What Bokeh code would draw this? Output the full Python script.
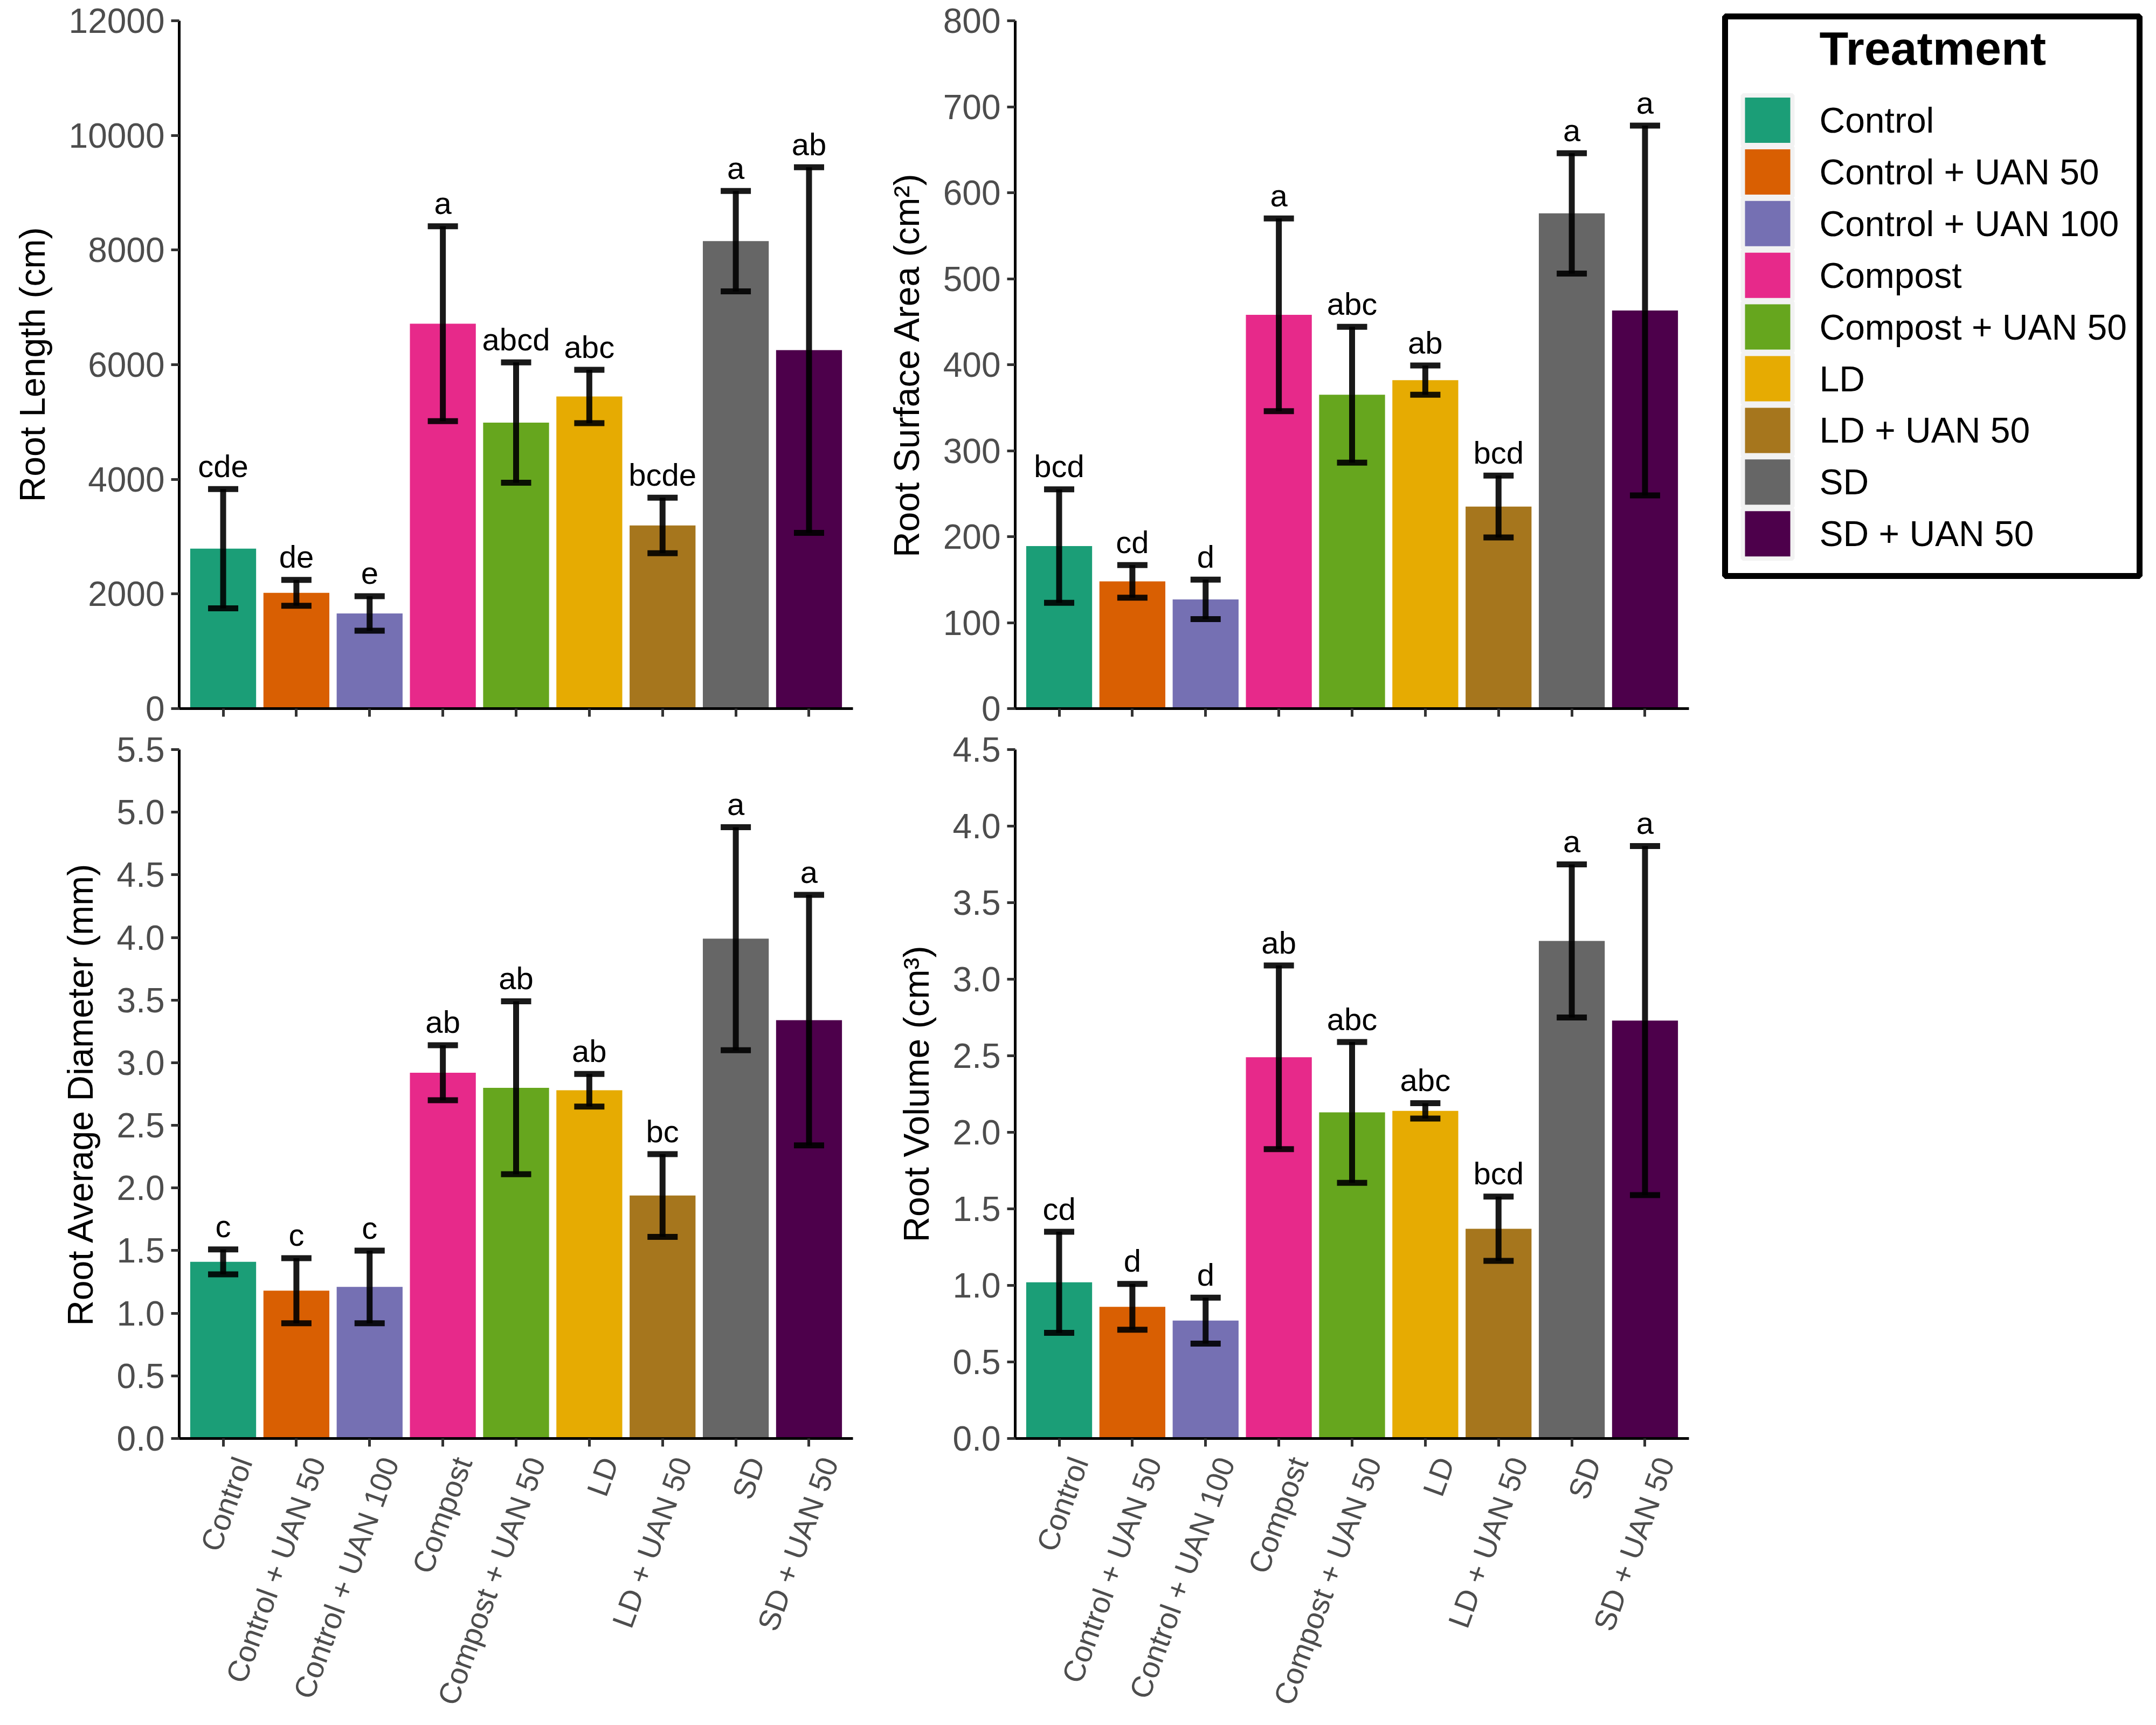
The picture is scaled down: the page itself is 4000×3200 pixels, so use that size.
import numpy as np
from bokeh.plotting import figure
from bokeh.models import (ColumnDataSource, Range1d, FixedTicker,
                          PrintfTickFormatter, Whisker, TeeHead, LinearAxis,
                          CustomJSTickFormatter)
from bokeh.layouts import row, column
from bokeh.core.properties import value
from bokeh.embed import file_html
from bokeh.resources import INLINE

# ---------------- data ----------------
treatments = ["Control", "Control + UAN 50", "Control + UAN 100", "Compost",
              "Compost + UAN 50", "LD", "LD + UAN 50", "SD", "SD + UAN 50"]
colors = ["#1B9E77", "#D95F02", "#7570B3", "#E7298A", "#66A61E",
          "#E6AB02", "#A6761D", "#666666", "#4D004B"]

length_mean = [2790, 2020, 1660, 6715, 4990, 5445, 3195, 8155, 6255]
length_se = [1040, 225, 300, 1700, 1050, 465, 485, 875, 3190]
length_letters = ["cde", "de", "e", "a", "abcd", "abc", "bcde", "a", "ab"]
length_ticks = [0, 2000, 4000, 6000, 8000, 10000, 12000]

area_mean = [189, 148, 127, 458, 365, 382, 235, 576, 463]
area_se = [66, 19, 23, 112, 79, 17, 36, 70, 215]
area_letters = ["bcd", "cd", "d", "a", "abc", "ab", "bcd", "a", "a"]
area_ticks = [0, 100, 200, 300, 400, 500, 600, 700, 800]

diam_mean = [1.41, 1.18, 1.21, 2.92, 2.80, 2.78, 1.94, 3.99, 3.34]
diam_se = [0.10, 0.26, 0.29, 0.22, 0.69, 0.13, 0.33, 0.89, 1.00]
diam_letters = ["c", "c", "c", "ab", "ab", "ab", "bc", "a", "a"]
diam_ticks = [0.0, 0.5, 1.0, 1.5, 2.0, 2.5, 3.0, 3.5, 4.0, 4.5, 5.0, 5.5]

vol_mean = [1.02, 0.86, 0.77, 2.49, 2.13, 2.14, 1.37, 3.25, 2.73]
vol_se = [0.33, 0.15, 0.15, 0.60, 0.46, 0.05, 0.21, 0.50, 1.14]
vol_letters = ["cd", "d", "d", "ab", "abc", "abc", "bcd", "a", "a"]
vol_ticks = [0.0, 0.5, 1.0, 1.5, 2.0, 2.5, 3.0, 3.5, 4.0, 4.5]

FONT = "Liberation Sans"
N = len(treatments)
XPOS = list(range(1, N + 1))   # discrete positions of the treatments


def panel(mean, se, letters, ticks, fmt, ylabel, w, h, bl, br, bt, bb, xlabels):
    frame_h = h - bt - bb
    frame_w = w - bl - br
    span = ticks[-1] - ticks[0]
    pad = span * 43.0 / frame_h          # letter centre 43px above the cap
    upper = [m + s for m, s in zip(mean, se)]
    src = ColumnDataSource(dict(
        x=XPOS, cat=treatments, mean=mean, upper=upper,
        lower=[m - s for m, s in zip(mean, se)],
        lety=[u + pad for u in upper],
        letter=letters, color=colors))
    p = figure(x_range=Range1d(0.4, N + 0.6),
               y_range=Range1d(ticks[0], ticks[-1]),
               width=w, height=h, output_backend="svg", toolbar_location=None,
               min_border_left=bl, min_border_right=br,
               min_border_top=bt, min_border_bottom=bb)
    p.background_fill_color = "white"
    p.border_fill_color = "white"
    p.outline_line_color = None
    p.xgrid.visible = False
    p.ygrid.visible = False

    p.vbar(x="x", top="mean", bottom=0, width=0.9, fill_color="color",
           line_color=None, source=src)
    head = dict(size=56, line_width=11, line_color="black", line_alpha=0.9)
    p.add_layout(Whisker(base="x", upper="upper", lower="lower", source=src,
                         level="overlay",
                         line_width=11, line_color="black", line_alpha=0.9,
                         upper_head=TeeHead(**head), lower_head=TeeHead(**head)))
    p.text(x="x", y="lety", text="letter", source=src,
           text_font=value(FONT), text_font_size="58px", text_color="black",
           text_align="center", text_baseline="middle")

    for ax in (p.xaxis[0], p.yaxis[0]):
        ax.axis_line_width = 5
        ax.axis_line_color = "black"
        ax.major_tick_line_width = 5
        ax.major_tick_line_color = "#333333"
        ax.major_tick_out = 15
        ax.major_tick_in = 0
        ax.minor_tick_line_color = None
        ax.major_label_text_font = FONT
        ax.major_label_text_color = "#4D4D4D"

    ya = p.yaxis[0]
    ya.ticker = FixedTicker(ticks=ticks)
    ya.formatter = PrintfTickFormatter(format=fmt)
    ya.major_label_text_font_size = "64px"
    ya.major_label_standoff = 12
    ya.axis_label = ylabel
    ya.axis_label_text_font = FONT
    ya.axis_label_text_font_size = "66px"
    ya.axis_label_text_font_style = "normal"
    ya.axis_label_text_color = "black"
    ya.axis_label_standoff = 28

    xa = p.xaxis[0]
    xa.ticker = FixedTicker(ticks=XPOS)
    xa.major_label_text_font_size = "1px"
    xa.major_label_text_color = None
    xa.major_label_standoff = 0
    if xlabels:
        # label axis, nudged right of the ticks like rotated ggplot labels
        unit = frame_w / (N + 0.2)
        d = 37.0 / unit
        p.extra_x_ranges = {"lab": Range1d(0.4 - d, N + 0.6 - d)}
        lab = LinearAxis(x_range_name="lab",
                         ticker=FixedTicker(ticks=XPOS),
                         formatter=CustomJSTickFormatter(
                             args=dict(labels=treatments),
                             code="return labels[Math.round(tick) - 1] || ''"))
        lab.axis_line_color = None
        lab.major_tick_line_color = None
        lab.major_tick_out = 0
        lab.major_tick_in = 0
        lab.minor_tick_line_color = None
        lab.major_label_text_font = FONT
        lab.major_label_text_font_size = "56px"
        lab.major_label_text_color = "#4D4D4D"
        lab.major_label_orientation = np.deg2rad(70)
        lab.major_label_standoff = 22
        p.add_layout(lab, "below")
    return p


p1 = panel(length_mean, length_se, length_letters, length_ticks, "%d",
           "Root Length (cm)", 1598, 1352, 332, 16, 38, 38, False)
p2 = panel(area_mean, area_se, area_letters, area_ticks, "%d",
           "Root Surface Area (cm²)", 1580, 1352, 285, 45, 38, 38, False)
p3 = panel(diam_mean, diam_se, diam_letters, diam_ticks, "%.1f",
           "Root Average Diameter (mm)", 1598, 1832, 332, 16, 38, 513, True)
p4 = panel(vol_mean, vol_se, vol_letters, vol_ticks, "%.1f",
           "Root Volume (cm³)", 1580, 1832, 285, 45, 38, 513, True)

# ---------------- legend ----------------
leg_src = ColumnDataSource(dict(
    y=list(range(N - 1, -1, -1)), label=treatments, color=colors))
pl = figure(width=806, height=1100, output_backend="svg", toolbar_location=None,
            x_range=Range1d(0, 769), y_range=Range1d(-0.816, 10.007),
            min_border_left=22, min_border_right=15, min_border_top=30,
            min_border_bottom=32)
pl.axis.visible = False
pl.xgrid.visible = False
pl.ygrid.visible = False
pl.outline_line_color = "black"
pl.outline_line_width = 11
pl.background_fill_color = "white"
pl.border_fill_color = "white"
pl.rect(x=79, y="y", width=92, height=92, width_units="screen",
        height_units="screen", fill_color="color", line_color="#F2F2F2",
        line_width=8, source=leg_src)
pl.text(x=175, y="y", text="label", source=leg_src, text_font=value(FONT),
        text_font_size="66px", text_color="black", text_align="left",
        text_baseline="middle")
pl.text(x=[175], y=[9.387], text=["Treatment"], text_font=value(FONT),
        text_font_size="88px", text_font_style="bold", text_color="black",
        text_align="left", text_baseline="middle")

layout = row(column(p1, p3), column(p2, p4), pl)

with open("out.html", "w") as f:
    f.write(file_html(layout, INLINE))
